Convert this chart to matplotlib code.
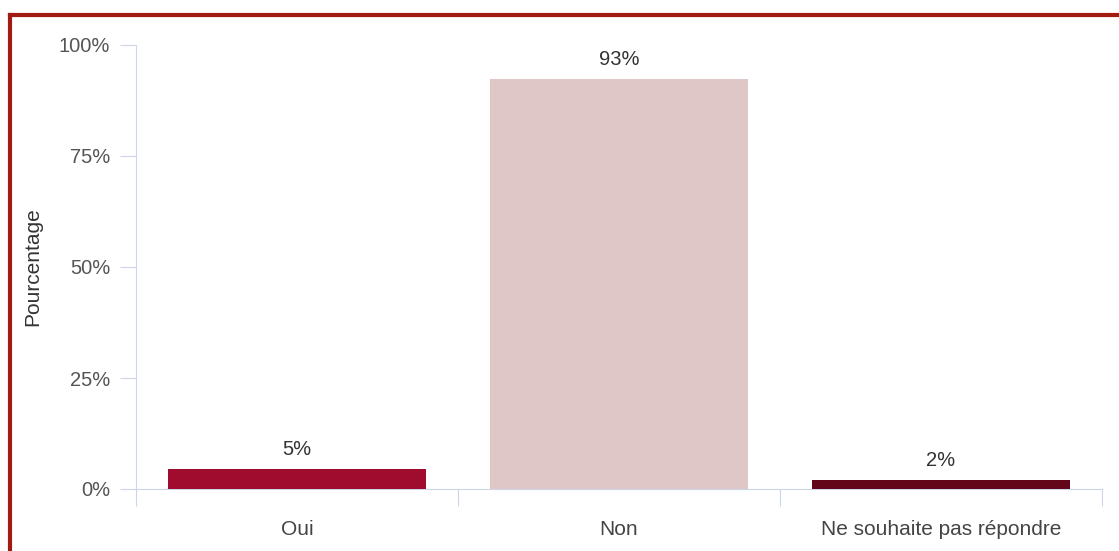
import matplotlib.pyplot as plt
from matplotlib.lines import Line2D

plt.rcParams["font.family"] = ["Liberation Sans", "DejaVu Sans"]

categories = ["Oui", "Non", "Ne souhaite pas répondre"]
values = [4.5, 92.3, 2.1]
value_labels = ["5%", "93%", "2%"]
colors = ["#a00c2e", "#dfc6c7", "#64061a"]
y_ticks = [0, 25, 50, 75, 100]
y_tick_labels = ["0%", "25%", "50%", "75%", "100%"]

W, H = 1119, 551
fig = plt.figure(figsize=(W / 100, H / 100), dpi=100)
ax = fig.add_axes([136 / W, 1 - 489 / H, (1102 - 136) / W, (489 - 45) / H])

x = list(range(len(categories)))
ax.bar(x, values, width=0.8, color=colors, zorder=3)
for xi, v, lab in zip(x, values, value_labels):
    ax.annotate(lab, (xi, v), xytext=(0, 7), textcoords="offset points",
                ha="center", va="bottom", fontsize=14.5, color="#333333")

ax.set_xlim(-0.5, len(categories) - 0.5)
ax.set_ylim(0, 100)
ax.set_yticks(y_ticks)
ax.set_yticklabels(y_tick_labels)
ax.set_xticks([i - 0.5 for i in range(len(categories) + 1)], minor=False)
ax.set_xticklabels([])
ax.set_xticks(x, minor=True)
ax.set_xticklabels(categories, minor=True)

axis_col = "#ccd6eb"
for side in ["top", "right"]:
    ax.spines[side].set_visible(False)
ax.spines["left"].set_color(axis_col)
ax.spines["bottom"].set_color(axis_col)
ax.tick_params(axis="y", length=11.5, color=axis_col, labelsize=14.5, labelcolor="#555555", pad=7)
ax.tick_params(axis="x", which="major", length=12, color=axis_col)
ax.tick_params(axis="x", which="minor", length=0, labelsize=15, labelcolor="#444444", pad=22)
ax.set_ylabel("Pourcentage", fontsize=15, color="#333333")
ax.yaxis.set_label_coords((42 - 136) / (1102 - 136), 0.5)

# red frame around the chart
border = "#a21b10"
fig.add_artist(Line2D([10 / W, 1.01], [1 - 15 / H, 1 - 15 / H], color=border, lw=3))
fig.add_artist(Line2D([10 / W, 10 / W], [1 - 15 / H, -0.01], color=border, lw=3))

fig.savefig("out.png", dpi=100, facecolor="white")
